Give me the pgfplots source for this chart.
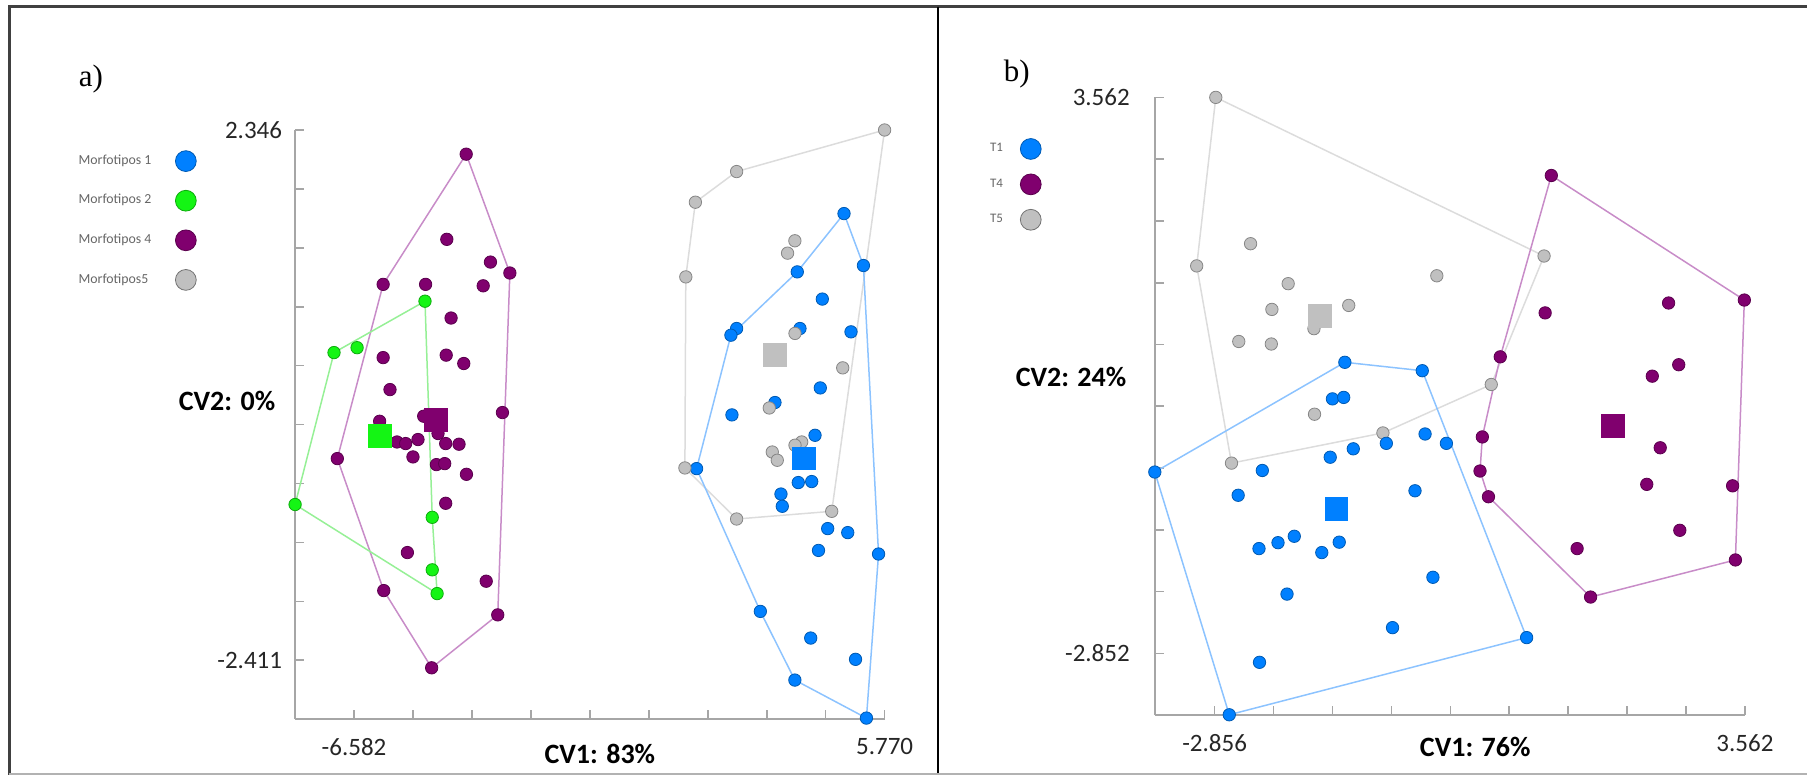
\documentclass[border=0pt]{standalone}
\usepackage{pgfplots}
\pgfplotsset{compat=1.18}
\usepackage{fontspec}
\setmainfont{Carlito}
\newfontfamily\seriffont{Liberation Serif}
\definecolor{cblue}{RGB}{0,128,255}
\definecolor{cgreen}{RGB}{20,245,20}
\definecolor{cpurple}{RGB}{128,0,110}
\definecolor{cgray}{RGB}{192,192,192}
\definecolor{hblue}{RGB}{140,195,255}
\definecolor{hgreen}{RGB}{150,240,150}
\definecolor{hpurple}{RGB}{200,140,200}
\definecolor{hgray}{RGB}{220,220,220}
\pgfplotsset{
  cvaxis/.style={
    scale only axis, anchor=south west, clip=false, enlargelimits=false,
    axis x line=bottom, axis y line=left,
    axis line style={-, draw=gray!70, line width=0.9pt},
    tick align=inside, major tick length=4.5pt,
    tick style={draw=gray!70, line width=0.8pt},
    ticklabel style={font=\fontsize{12.5}{14}\selectfont, text=black!85},
    xticklabel style={yshift=-6pt},
    yticklabel style={xshift=-3pt},
    legend plot pos=right, legend cell align=left,
  },
  pts/.style={only marks, mark=*, mark size=3.1pt, forget plot,
    mark options={fill=#1, draw=#1!70!black, line width=0.4pt}},
  cen/.style={only marks, mark=square*, mark size=5.7pt, forget plot,
    mark options={fill=#1, draw=#1, line width=0pt}},
  hull/.style={#1, line width=0.75pt, forget plot, mark=none},
}
\begin{document}
\begin{tikzpicture}
\useasboundingbox (0,0) rectangle (903.5pt,387.5pt);
\draw[line width=1.5pt, color=black!75] (903.5pt,384.15pt) -- (4.5pt,384.15pt) -- (4.5pt,0pt);
\draw[line width=1pt, color=black] (469pt,384.15pt) -- (469pt,0pt);
\draw[line width=0.6pt, color=gray!60] (4.5pt,0.5pt) -- (903.5pt,0.5pt);

% ---------------- panel a ----------------
\begin{axis}[cvaxis,
  at={(147.55pt,27.9pt)}, width=294.75pt, height=294.6pt,
  xmin=-7.954, xmax=5.770, ymin=-2.940, ymax=2.346,
  xtick={-6.582,-5.2096,-3.8371,-2.4647,-1.0922,0.2802,1.6527,3.0251,4.3976,5.770},
  xticklabels={-6.582,,,,,,,,,5.770},
  ytick={2.346,1.8174,1.2889,0.7603,0.2318,-0.2968,-0.8254,-1.3539,-1.8825,-2.411},
  yticklabels={2.346,,,,,,,,,-2.411},
  legend style={draw=none, fill=none, at={(axis description cs:-0.374,0.9655)},
    anchor=north west, inner sep=0pt, outer sep=0pt, row sep=9pt,
    font=\fontsize{6.9}{8}\selectfont, text=black!60,
    /tikz/every odd column/.append style={column sep=9.8pt}},
]
\addlegendimage{legend image code/.code={\draw[fill=cblue,draw=cblue!70!black,line width=0.4pt] (0,0) circle (5.2pt);}}
\addlegendentry{Morfotipos 1}
\addlegendimage{legend image code/.code={\draw[fill=cgreen,draw=cgreen!70!black,line width=0.4pt] (0,0) circle (5.2pt);}}
\addlegendentry{Morfotipos 2}
\addlegendimage{legend image code/.code={\draw[fill=cpurple,draw=cpurple!70!black,line width=0.4pt] (0,0) circle (5.2pt);}}
\addlegendentry{Morfotipos 4}
\addlegendimage{legend image code/.code={\draw[fill=cgray,draw=cgray!60!black,line width=0.4pt] (0,0) circle (5.2pt);}}
\addlegendentry{Morfotipos5}

% hulls
\addplot[hull=hgray] table {
x y
5.770 2.346
4.539 -1.075
2.325 -1.144
1.121 -0.686
1.142 1.028
1.365 1.698
2.325 1.973
5.770 2.346
};
\addplot[hull=hblue] table {
x y
4.825 1.596
5.277 1.130
5.629 -1.458
5.347 -2.930
3.681 -2.589
2.877 -1.973
1.393 -0.692
2.192 0.505
3.737 1.073
4.825 1.596
};
\addplot[hull=hpurple] table {
x y
-3.971 2.129
-2.954 1.063
-3.236 -2.004
-4.775 -2.479
-5.890 -1.786
-6.971 -0.602
-5.904 0.961
-3.971 2.129
};
\addplot[hull=hgreen] table {
x y
-4.930 0.810
-4.761 -1.129
-4.648 -1.813
-7.954 -1.014
-7.048 0.349
-4.930 0.810
};
% points
\addplot[pts=cblue] table {
x y
4.825 1.596
5.277 1.130
3.737 1.073
4.320 0.829
2.325 0.565
2.192 0.505
3.800 0.565
4.988 0.535
4.273 0.032
3.218 -0.099
2.216 -0.210
4.150 -0.393
1.393 -0.692
3.760 -0.817
4.073 -0.808
3.357 -0.920
3.388 -1.030
4.445 -1.230
4.912 -1.266
4.231 -1.426
5.629 -1.458
2.877 -1.973
4.050 -2.212
5.093 -2.403
3.681 -2.589
5.347 -2.930
};
\addplot[pts=cgray] table {
x y
5.770 2.346
2.325 1.973
1.365 1.698
3.681 1.352
3.511 1.241
1.142 1.028
3.684 0.521
4.795 0.212
3.085 -0.148
3.840 -0.453
3.684 -0.482
3.155 -0.543
3.271 -0.617
1.121 -0.686
4.539 -1.075
2.325 -1.144
};
\addplot[pts=cpurple] table {
x y
-3.971 2.129
-4.422 1.365
-3.406 1.161
-2.954 1.063
-5.904 0.961
-4.916 0.961
-3.575 0.948
-4.323 0.659
-5.904 0.304
-4.436 0.326
-4.027 0.251
-5.745 0.017
-3.127 -0.189
-5.986 -0.267
-4.960 -0.222
-4.627 -0.377
-5.582 -0.453
-5.380 -0.467
-5.093 -0.431
-4.448 -0.467
-4.138 -0.473
-5.210 -0.587
-6.971 -0.602
-4.664 -0.656
-4.471 -0.647
-3.965 -0.743
-4.448 -1.003
-5.340 -1.445
-5.890 -1.786
-3.505 -1.702
-3.236 -2.004
-4.775 -2.479
};
\addplot[pts=cgreen] table {
x y
-4.930 0.810
-7.048 0.349
-6.511 0.393
-7.954 -1.014
-4.761 -1.129
-4.761 -1.600
-4.648 -1.813
};
% centroids
\addplot[cen=cblue] coordinates {(3.900,-0.602)};
\addplot[cen=cgreen] coordinates {(-5.979,-0.399)};
\addplot[cen=cpurple] coordinates {(-4.681,-0.258)};
\addplot[cen=cgray] coordinates {(3.218,0.326)};

\node[font=\fontsize{14}{16}\selectfont\bfseries] at (axis description cs:0.517,-0.059) {CV1: 83\%};
\node[font=\fontsize{14}{16}\selectfont\bfseries] at (axis description cs:-0.1155,0.540) {CV2: 0\%};
\node[font=\fontsize{15.5}{17}\selectfont\seriffont] at (axis description cs:-0.3464,1.0864) {a)};
\end{axis}

% ---------------- panel b ----------------
\begin{axis}[cvaxis,
  at={(577.4pt,29.9pt)}, width=295.05pt, height=308.9pt,
  xmin=-3.58, xmax=3.562, ymin=-3.565, ymax=3.562,
  xtick={-2.856,-2.1429,-1.4298,-0.7167,-0.0036,0.7096,1.4227,2.1358,2.8489,3.562},
  xticklabels={-2.856,,,,,,,,,3.562},
  ytick={3.562,2.8493,2.1366,1.4240,0.7113,-0.0014,-0.7141,-1.4268,-2.1394,-2.852},
  yticklabels={3.562,,,,,,,,,-2.852},
  yticklabel style={xshift=-6pt},
  legend style={draw=none, fill=none, at={(axis description cs:-0.286,0.934)},
    anchor=north west, inner sep=0pt, outer sep=0pt, row sep=6.9pt,
    font=\fontsize{6.5}{8}\selectfont, text=black!60,
    /tikz/every odd column/.append style={column sep=6.5pt}},
]
\addlegendimage{legend image code/.code={\draw[fill=cblue,draw=cblue!70!black,line width=0.4pt] (0,0) circle (5.2pt);}}
\addlegendentry{T1}
\addlegendimage{legend image code/.code={\draw[fill=cpurple,draw=cpurple!70!black,line width=0.4pt] (0,0) circle (5.2pt);}}
\addlegendentry{T4}
\addlegendimage{legend image code/.code={\draw[fill=cgray,draw=cgray!60!black,line width=0.4pt] (0,0) circle (5.2pt);}}
\addlegendentry{T5}

\addplot[hull=hgray] table {
x y
-2.842 3.562
1.131 1.732
0.492 0.250
-0.819 -0.309
-2.652 -0.657
-3.073 1.618
-2.842 3.562
};
\addplot[hull=hblue] table {
x y
-1.280 0.506
-0.343 0.409
0.920 -2.670
-2.679 -3.560
-3.580 -0.760
-1.280 0.506
};
\addplot[hull=hpurple] table {
x y
1.219 2.661
3.555 1.224
3.447 -1.774
1.694 -2.202
0.458 -1.045
0.356 -0.748
0.384 -0.355
0.601 0.569
1.219 2.661
};
\addplot[pts=cgray] table {
x y
-2.842 3.562
-3.073 1.618
-2.421 1.874
-1.966 1.413
-0.167 1.504
1.131 1.732
-2.163 1.116
-1.233 1.162
-2.564 0.746
-2.170 0.717
-1.654 0.894
-1.647 -0.093
-0.819 -0.309
0.492 0.250
-2.652 -0.657
};
\addplot[pts=cblue] table {
x y
-1.280 0.506
-0.343 0.409
-1.430 0.084
-1.294 0.101
-0.309 -0.321
-0.051 -0.429
-0.778 -0.429
-1.178 -0.492
-1.457 -0.589
-3.580 -0.760
-2.279 -0.742
-2.571 -1.028
-0.431 -0.976
-2.319 -1.643
-2.089 -1.575
-1.892 -1.501
-1.559 -1.689
-1.348 -1.569
-0.214 -1.974
-1.980 -2.168
-0.703 -2.555
0.920 -2.670
-2.313 -2.955
-2.679 -3.560
};
\addplot[pts=cpurple] table {
x y
1.219 2.661
3.555 1.224
2.638 1.190
1.144 1.076
0.601 0.569
2.761 0.478
2.441 0.346
0.384 -0.355
2.537 -0.480
0.356 -0.748
0.458 -1.045
2.374 -0.902
3.413 -0.919
2.774 -1.432
1.531 -1.643
3.447 -1.774
1.694 -2.202
};
\addplot[cen=cblue] coordinates {(-1.382,-1.187)};
\addplot[cen=cpurple] coordinates {(1.966,-0.229)};
\addplot[cen=cgray] coordinates {(-1.579,1.036)};

\node[font=\fontsize{14}{16}\selectfont\bfseries] at (axis description cs:0.543,-0.052) {CV1: 76\%};
\node[font=\fontsize{14}{16}\selectfont\bfseries] at (axis description cs:-0.142,0.548) {CV2: 24\%};
\node[font=\fontsize{15.5}{17}\selectfont\seriffont] at (axis description cs:-0.234,1.0377) {b)};
\end{axis}
\end{tikzpicture}
\end{document}
